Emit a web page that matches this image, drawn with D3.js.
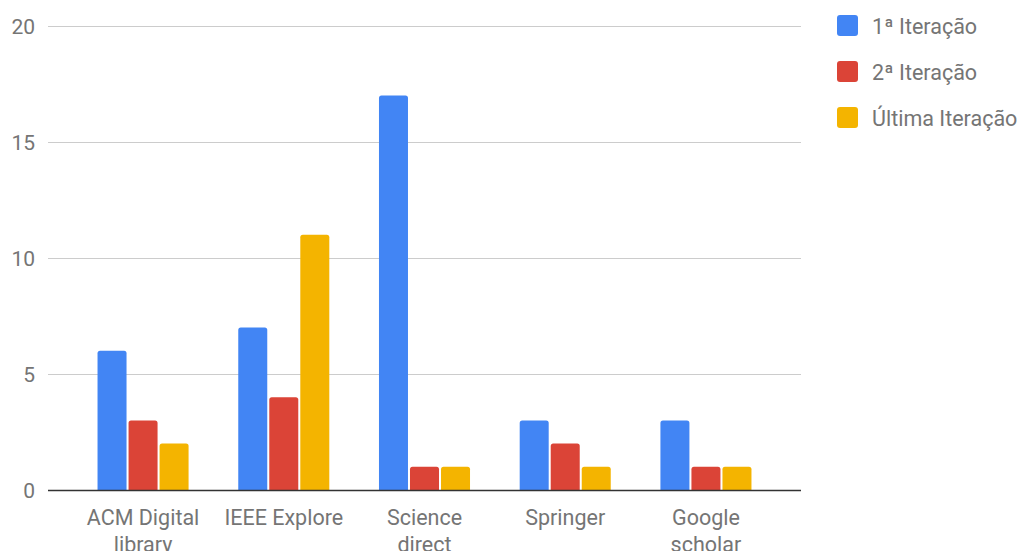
<!DOCTYPE html>
<html>
<head>
<meta charset="utf-8">
<script src="https://cdnjs.cloudflare.com/ajax/libs/d3/7.8.5/d3.min.js"></script>
<style>
  body { margin: 0; background: #fff; }
  text { font-family: Roboto, "Noto Sans", sans-serif; }
</style>
</head>
<body>
<svg id="chart" width="1027" height="551"></svg>
<script>
// categories and series
var categories = [["ACM Digital", "library"], ["IEEE Explore"], ["Science", "direct"], ["Springer"], ["Google", "scholar"]]
var series = ["1ª Iteração", "2ª Iteração", "Última Iteração"]
var iter1 = [6, 7, 17, 3, 3]
var iter2 = [3, 4, 1, 2, 1]
var iterLast = [2, 11, 1, 1, 1]
var yTicks = [0, 5, 10, 15, 20]
var colors = ["#4285f4", "#db4437", "#f4b400"]

var values = [iter1, iter2, iterLast]
var svg = d3.select("#chart")

var plotLeft = 48, plotRight = 801, plotTop = 26, plotBottom = 490

var x0 = d3.scaleBand()
  .domain(d3.range(categories.length))
  .range([plotLeft, plotRight])
  .paddingInner(0.353)
  .paddingOuter(0.352)

var x1 = d3.scaleBand()
  .domain(d3.range(series.length))
  .range([0, x0.bandwidth()])
  .paddingInner(0.065)

var y = d3.scaleLinear()
  .domain([0, 20])
  .range([plotBottom, plotTop])

// gridlines + y labels
var grid = svg.append("g")
grid.selectAll("line")
  .data(yTicks.filter(d => d > 0))
  .enter().append("line")
  .attr("x1", plotLeft).attr("x2", plotRight)
  .attr("y1", d => Math.round(y(d)) + 0.5)
  .attr("y2", d => Math.round(y(d)) + 0.5)
  .attr("stroke", "#cccccc")
  .attr("stroke-width", 1)

grid.selectAll("text")
  .data(yTicks)
  .enter().append("text")
  .attr("x", 35)
  .attr("y", d => y(d) + 8)
  .attr("text-anchor", "end")
  .attr("fill", "#757575")
  .style("font-size", "21px")
  .text(d => d)

// bars with rounded top corners
function barPath(x, w, yTop, yBase, r) {
  r = Math.min(r, yBase - yTop)
  return "M" + x + "," + yBase +
    "V" + (yTop + r) +
    "Q" + x + "," + yTop + " " + (x + r) + "," + yTop +
    "H" + (x + w - r) +
    "Q" + (x + w) + "," + yTop + " " + (x + w) + "," + (yTop + r) +
    "V" + yBase + "Z"
}

var groups = svg.append("g").selectAll("g")
  .data(categories)
  .enter().append("g")
  .attr("transform", (d, i) => "translate(" + x0(i) + ",0)")

groups.each(function (c, ci) {
  d3.select(this).selectAll("path")
    .data(series.map((s, si) => ({ si: si, v: values[si][ci] })))
    .enter().append("path")
    .attr("d", d => barPath(x1(d.si), x1.bandwidth(), y(d.v), y(0), 2.5))
    .attr("fill", d => colors[d.si])
})

// baseline
svg.append("line")
  .attr("x1", plotLeft).attr("x2", plotRight)
  .attr("y1", y(0) + 0.5).attr("y2", y(0) + 0.5)
  .attr("stroke", "#333333")
  .attr("stroke-width", 1.5)

// x labels
var xl = svg.append("g").selectAll("text")
  .data(categories)
  .enter().append("text")
  .attr("x", (d, i) => x0(i) + x0.bandwidth() / 2)
  .attr("y", 525)
  .attr("text-anchor", "middle")
  .attr("fill", "#757575")
  .style("font-size", "21.5px")

xl.selectAll("tspan")
  .data(d => d)
  .enter().append("tspan")
  .attr("x", function () { return d3.select(this.parentNode).attr("x") })
  .attr("dy", (d, i) => i === 0 ? 0 : 27)
  .text(d => d)

// legend
var legend = svg.append("g").selectAll("g")
  .data(series)
  .enter().append("g")
  .attr("transform", (d, i) => "translate(837," + (15 + i * 46) + ")")

legend.append("rect")
  .attr("width", 21).attr("height", 21)
  .attr("rx", 3)
  .attr("fill", (d, i) => colors[i])

legend.append("text")
  .attr("x", 35)
  .attr("y", 19)
  .attr("fill", "#757575")
  .style("font-size", "21.5px")
  .text(d => d)
</script>
</body>
</html>
